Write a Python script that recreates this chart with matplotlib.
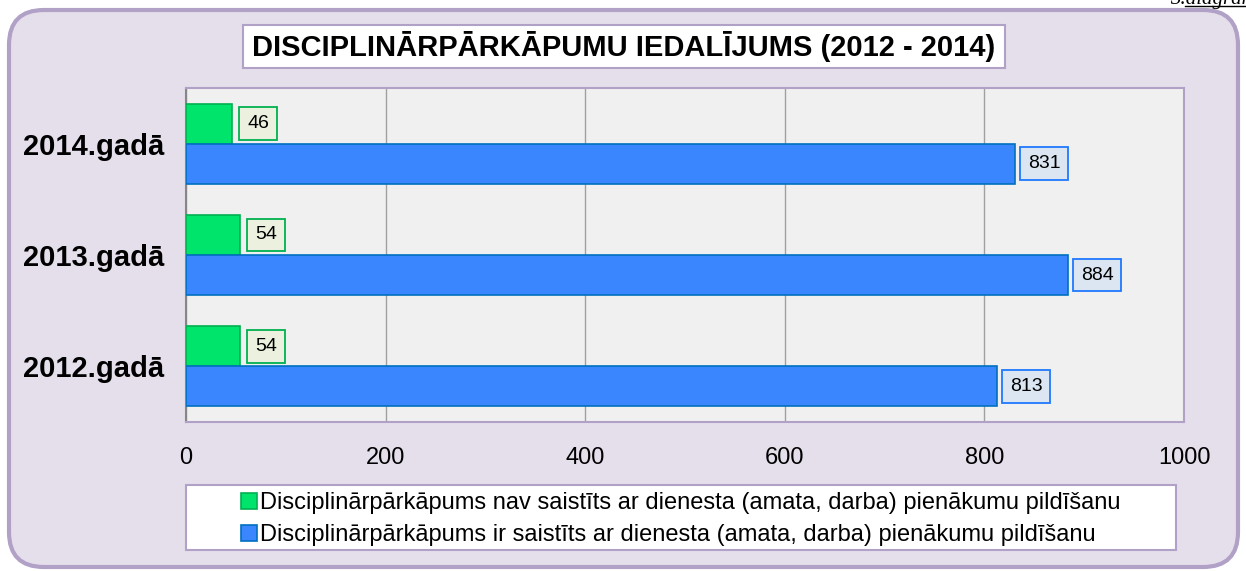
import matplotlib
matplotlib.use("Agg")
import matplotlib.pyplot as plt
from matplotlib.patches import FancyBboxPatch, Rectangle
from matplotlib.lines import Line2D
import numpy as np

plt.rcParams['font.family'] = ['Liberation Sans', 'DejaVu Sans']

years = ["2012.gadā", "2013.gadā", "2014.gadā"]
not_related = [54, 54, 46]
related = [813, 884, 831]
label_not = "Disciplinārpārkāpums nav saistīts ar dienesta (amata, darba) pienākumu pildīšanu"
label_rel = "Disciplinārpārkāpums ir saistīts ar dienesta (amata, darba) pienākumu pildīšanu"
title = "DISCIPLINĀRPĀRKĀPUMU IEDALĪJUMS (2012 - 2014)"

W, H = 1246, 571
fig = plt.figure(figsize=(W / 100, H / 100), dpi=100)
fig.patch.set_facecolor("white")

def fx(x):
    return x / W

def fy(y):
    return 1 - y / H

# rounded lavender panel
panel = FancyBboxPatch((fx(9), fy(567)), fx(1238) - fx(9), fy(10) - fy(567),
                       boxstyle="round,pad=0,rounding_size=0.028",
                       mutation_aspect=W / H,
                       transform=fig.transFigure, facecolor="#E5DFEC",
                       edgecolor="#B2A1C7", linewidth=3, zorder=-3)
fig.patches.append(panel)

# cut-off caption top right
fig.text(fx(1282), fy(4), "3.diagramma", ha="right", va="baseline",
         fontsize=15, style="italic", family="Liberation Serif", zorder=-1)
fig.lines.append(Line2D([fx(1185), fx(1246)], [fy(6), fy(6)],
                        transform=fig.transFigure, color="black", lw=1, zorder=-1))

# title box
fig.patches.append(Rectangle((fx(243), fy(68)), fx(1005) - fx(243), fy(25) - fy(68),
                             transform=fig.transFigure, facecolor="white",
                             edgecolor="#B2A1C7", lw=1.5, zorder=-2))
fig.text(fx(624), fy(47), title, ha="center", va="center",
         fontsize=21, fontweight="bold", zorder=2)

ax = fig.add_axes([fx(186), fy(422), fx(1184) - fx(186), fy(88) - fy(422)])
ax.set_facecolor("#F0F0F0")

y = np.arange(len(years))
h = 0.36
green = ax.barh(y + h / 2, not_related, height=h, color="#00E46B",
                edgecolor="#00B050", lw=1.2, label=label_not, zorder=3)
blue = ax.barh(y - h / 2, related, height=h, color="#3A86FF",
               edgecolor="#0070C0", lw=1.2, label=label_rel, zorder=3)

for i in range(len(years)):
    ax.annotate(str(not_related[i]), (not_related[i], y[i] + h / 2),
                xytext=(11, 0), textcoords="offset points", ha="left", va="center",
                fontsize=14, zorder=4,
                bbox=dict(boxstyle="square,pad=0.4", fc="#EBF1DE", ec="#00B050", lw=1.3))
    ax.annotate(str(related[i]), (related[i], y[i] - h / 2),
                xytext=(9, 0), textcoords="offset points", ha="left", va="center",
                fontsize=14, zorder=4,
                bbox=dict(boxstyle="square,pad=0.4", fc="#DCE6F2", ec="#1F78FF", lw=1.3))

ax.set_xlim(0, 1000)
ax.set_ylim(-0.5, 2.5)
ax.set_xticks([0, 200, 400, 600, 800, 1000])
ax.set_yticks(y)
ax.set_yticklabels(years, fontsize=21, fontweight="bold")
ax.tick_params(axis="x", length=0, pad=18, labelsize=17)
ax.tick_params(axis="y", length=0, pad=16)
ax.grid(axis="x", color="#A0A0A0", lw=1, zorder=1)
ax.set_axisbelow(True)
for s in ["top", "right", "bottom"]:
    ax.spines[s].set_color("#B2A1C7")
    ax.spines[s].set_linewidth(1.5)
ax.spines["left"].set_color("#868686")
ax.spines["left"].set_linewidth(1.5)

# legend box
fig.patches.append(Rectangle((fx(186), fy(550)), fx(1176) - fx(186), fy(485) - fy(550),
                             transform=fig.transFigure, facecolor="white",
                             edgecolor="#B2A1C7", lw=1.5, zorder=-2))
fig.legend(handles=[green, blue], loc="center", bbox_to_anchor=(fx(681), fy(519)),
           frameon=False, fontsize=17, handlelength=0.65, handleheight=0.65,
           handletextpad=0.15, labelspacing=0.42, borderpad=0)

fig.savefig("out.png", dpi=100)
